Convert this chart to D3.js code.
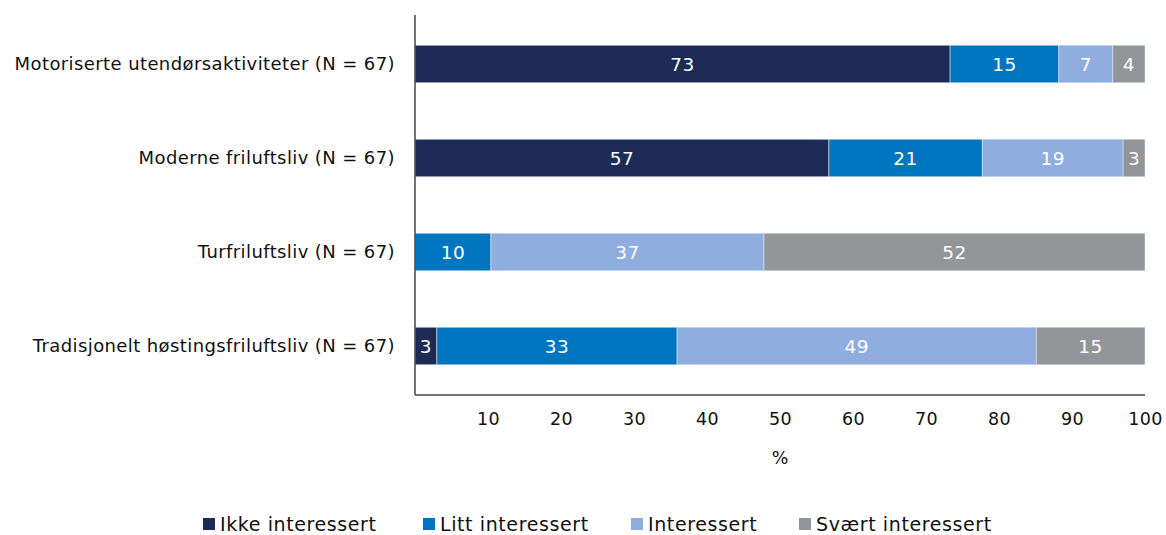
<!DOCTYPE html>
<html>
<head>
<meta charset="utf-8">
<script src="https://cdn.jsdelivr.net/npm/d3@7"></script>
<style>
  body { margin: 0; background: #fff; }
  text { font-family: "DejaVu Sans", sans-serif; }
</style>
</head>
<body>
<div id="chart"></div>
<script>
// categories (top to bottom)
const categories = [
    "Motoriserte utendørsaktiviteter (N = 67)",
    "Moderne friluftsliv (N = 67)",
    "Turfriluftsliv (N = 67)",
    "Tradisjonelt høstingsfriluftsliv (N = 67)"
];
const seriesNames = ["Ikke interessert", "Litt interessert", "Interessert", "Svært interessert"];
const seriesColors = ["#1c2b56", "#0075bf", "#8fadde", "#939598"];

// percent per series, in category order
const ikkeInteressert  = [73.3, 56.7, 0,    3.0];
const littInteressert  = [14.9, 21.0, 10.4, 32.9];
const interessert      = [7.4,  19.3, 37.4, 49.2];
const svaertInteressert = [4.4, 3.0,  52.2, 14.9];

const xTicks = [10, 20, 30, 40, 50, 60, 70, 80, 90, 100];

const width = 1166, height = 535;
const x0 = 415, x1 = 1145, yTop = 15, yBase = 395;

const rows = categories.map((c, i) => ({
    cat: c,
    vals: [ikkeInteressert[i], littInteressert[i], interessert[i], svaertInteressert[i]]
}));

const stack = d3.stack().keys([0, 1, 2, 3]).value((d, k) => d.vals[k]);
const series = stack(rows);

const x = d3.scaleLinear().domain([0, 100]).range([x0, x1]);
const y = d3.scaleBand().domain(categories).range([17, 393])
    .paddingInner(0.6).paddingOuter(0.3);

const svg = d3.select("#chart").append("svg")
    .attr("width", width).attr("height", height);

// bars
const groups = svg.selectAll("g.series")
    .data(series)
    .enter().append("g")
    .attr("fill", (d, i) => seriesColors[i]);

groups.selectAll("rect")
    .data(d => d.map(s => ({ s, cat: s.data.cat })))
    .enter().append("rect")
    .attr("x", d => x(d.s[0]))
    .attr("y", d => y(d.cat))
    .attr("width", d => x(d.s[1]) - x(d.s[0]))
    .attr("height", y.bandwidth())
    .attr("stroke", "#dfe6f0")
    .attr("stroke-width", 0.6);

// value labels
groups.selectAll("text")
    .data(d => d.filter(s => s[1] - s[0] > 0).map(s => ({ s, cat: s.data.cat })))
    .enter().append("text")
    .attr("x", d => (x(d.s[0]) + x(d.s[1])) / 2)
    .attr("y", d => y(d.cat) + y.bandwidth() / 2)
    .attr("dy", "0.36em")
    .attr("text-anchor", "middle")
    .attr("fill", "#fff")
    .style("font-size", "18.5px")
    .style("letter-spacing", "0.5px")
    .text(d => Math.round(d.s[1] - d.s[0]));

// axes lines
svg.append("line")
    .attr("x1", x0).attr("x2", x0).attr("y1", yTop).attr("y2", yBase)
    .attr("stroke", "#444").attr("stroke-width", 1.5);
svg.append("line")
    .attr("x1", x0).attr("x2", x1).attr("y1", yBase).attr("y2", yBase)
    .attr("stroke", "#444").attr("stroke-width", 1.5);

// category labels
svg.selectAll("text.cat")
    .data(categories)
    .enter().append("text")
    .attr("class", "cat")
    .attr("x", 395)
    .attr("y", d => y(d) + y.bandwidth() / 2)
    .attr("dy", "0.36em")
    .attr("text-anchor", "end")
    .attr("fill", "#111")
    .style("font-size", "18px")
    .style("letter-spacing", "0.4px")
    .text(d => d);

// x tick labels
const xAxis = d3.axisBottom(x).tickValues(xTicks).tickSize(0).tickPadding(18);
const gx = svg.append("g").attr("transform", `translate(0,${yBase})`).call(xAxis);
gx.select(".domain").remove();
gx.selectAll("text").style("font-size", "17.5px").attr("fill", "#111")
    .style("letter-spacing", "0.4px")
    .style("font-family", "'DejaVu Sans', sans-serif");

svg.append("text")
    .attr("x", 780).attr("y", 464)
    .attr("text-anchor", "middle")
    .attr("fill", "#111")
    .style("font-size", "17.5px")
    .text("%");

// legend
const legendX = [203, 423, 631, 799];
const legend = svg.selectAll("g.legend")
    .data(seriesNames)
    .enter().append("g")
    .attr("transform", (d, i) => `translate(${legendX[i]},518)`);
legend.append("rect")
    .attr("width", 12).attr("height", 12)
    .attr("fill", (d, i) => seriesColors[i]);
legend.append("text")
    .attr("x", 17).attr("y", 6).attr("dy", "0.36em")
    .attr("fill", "#111")
    .style("font-size", "19px")
    .style("letter-spacing", "0.6px")
    .text(d => d);
</script>
</body>
</html>
